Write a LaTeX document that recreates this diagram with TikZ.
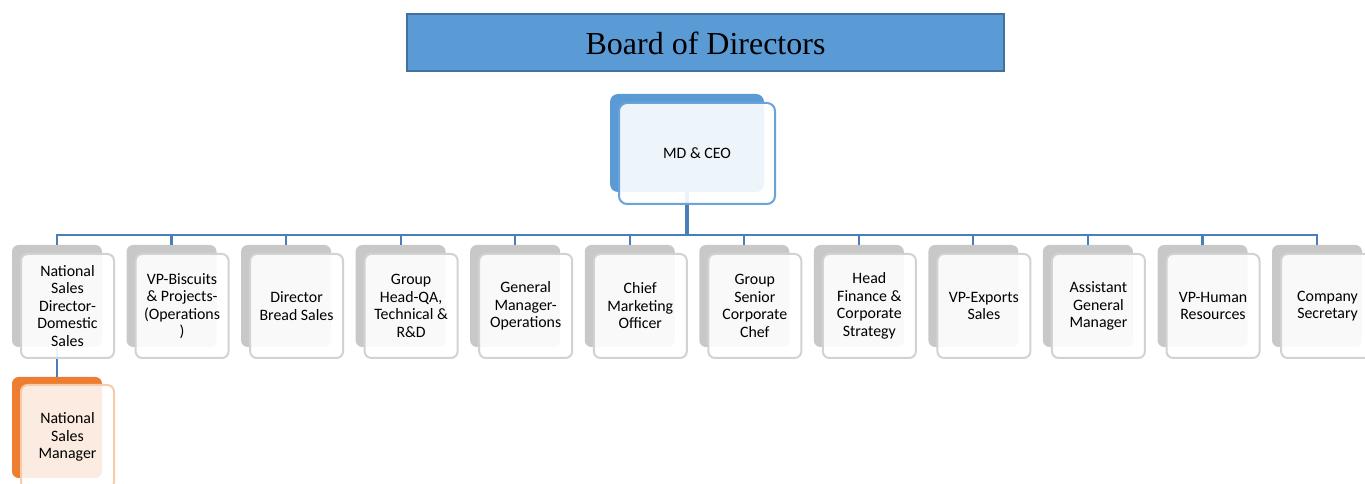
\documentclass[tikz,border=0pt]{standalone}
\usepackage{fontspec}
\setmainfont{Carlito}
\newfontfamily\boardfont{Liberation Serif}
\definecolor{bblue}{HTML}{5B9BD5}
\definecolor{bborder}{HTML}{41719C}
\definecolor{conncol}{HTML}{4A7EBB}
\definecolor{gback}{HTML}{C8C8C8}
\definecolor{gborder}{HTML}{D2D2D2}
\definecolor{oback}{HTML}{ED7D31}
\definecolor{oborder}{HTML}{F8CBAD}
\definecolor{mdborder}{HTML}{6AA3D8}
\tikzset{
  backbox/.style={rounded corners=5pt, minimum width=67.5pt, minimum height=76.5pt, inner sep=0pt, fill=gback},
  frontbox/.style={rounded corners=5pt, minimum width=69.75pt, minimum height=78pt, inner sep=0pt,
    draw=gborder, line width=1.5pt, fill=white, fill opacity=0.9, text opacity=1,
    align=center, font=\fontsize{11.9pt}{13.1pt}\selectfont},
  conn/.style={draw=conncol, line width=1.6pt},
}
\begin{document}
\begin{tikzpicture}[x=0.75pt,y=-0.75pt]
\useasboundingbox (0,0) rectangle (1365,484);
% Board
\node[draw=bborder, line width=1.5pt, fill=bblue, minimum width=447.75pt, minimum height=42.75pt, inner sep=0pt,
  text height=18.6pt, text depth=0pt,
  font=\boardfont\fontsize{24pt}{28pt}\selectfont] (board) at (705.5,42.5) {Board of Directors};
% MD back
\node[rounded corners=6pt, fill=bblue, minimum width=115.5pt, minimum height=73.5pt, inner sep=0pt] (mdb) at (687,143) {};
% children back
\foreach \i in {0,...,11} {
  \node[backbox] (c\i b) at ({57+114.55*\i},296) {};
}
\node[backbox, fill=oback, minimum height=75.75pt] (nsmb) at (57,427.5) {};
\coordinate (bus) at (687,235);
% connectors
\foreach \i in {0,...,11} {
  \draw[conn] (mdb.south) -- (mdb.south |- bus) -| (c\i b.north);
}
\draw[draw=conncol, line width=2.3pt] (mdb.south) -- (mdb.south |- bus);
\draw[conn] (c0b.south) -- (nsmb.north);
% MD front
\node[frontbox, draw=mdborder, minimum width=117pt, minimum height=75.75pt, rounded corners=6pt] (mdf) at (697,153.5) {MD \& CEO};
% children front
\foreach \i/\t in {
  0/{National\\Sales\\Director-\\Domestic\\Sales},
  1/{VP-Biscuits\\\& Projects-\\(Operations\\)},
  2/{Director\\Bread Sales},
  3/{Group\\Head-QA,\\Technical \&\\R\&D},
  4/{General\\Manager-\\Operations},
  5/{Chief\\Marketing\\Officer},
  6/{Group\\Senior\\Corporate\\Chef},
  7/{Head\\Finance \&\\Corporate\\Strategy},
  8/{VP-Exports\\Sales},
  9/{Assistant\\General\\Manager},
  10/{VP-Human\\Resources},
  11/{Company\\Secretary}} {
  \node[frontbox] (c\i f) at ({67.5+114.55*\i},306) {\t};
}
\node[frontbox, draw=oborder, fill opacity=0.85] (nsmf) at (67.5,437) {National\\Sales\\Manager};
\end{tikzpicture}
\end{document}
